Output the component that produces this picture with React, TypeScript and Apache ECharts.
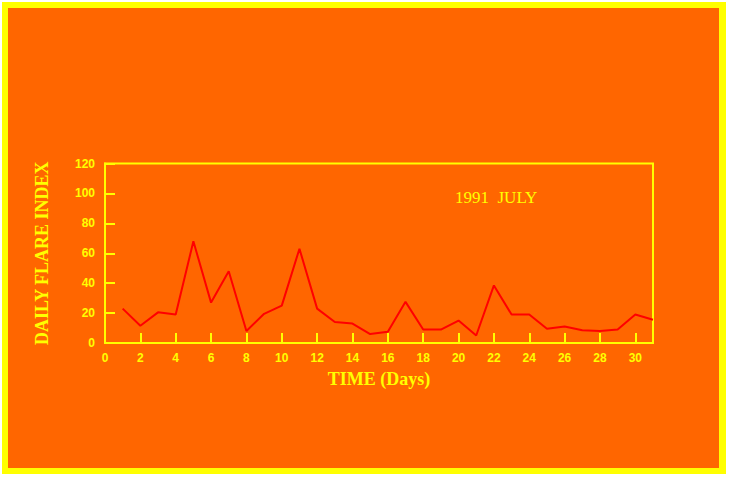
import React, { useEffect, useRef } from "react";
import * as echarts from "echarts";

const days: number[] = Array.from({ length: 31 }, (_, i) => i + 1);
const flareIndex: number[] = [
  23, 11.5, 20.5, 19, 68, 27, 48, 8, 19.5, 25, 63, 23, 14, 13, 6, 7.5,
  27.5, 9, 9, 15, 5, 38.5, 19, 19, 9.5, 11, 8.5, 8, 9, 19, 15.5,
];
const yTicks = { min: 0, max: 120, interval: 20 };
const xTicks = { min: 0, max: 31, interval: 2 };

export default function App() {
  const ref = useRef<HTMLDivElement>(null);
  useEffect(() => {
    if (!ref.current) return;
    const chart = echarts.init(ref.current, undefined, { renderer: "svg" });
    const yellow = "#FFFF00";
    chart.setOption({
      animation: false,
      backgroundColor: "#FFFFFF",
      graphic: [
        { type: "rect", z: -10, silent: true, shape: { x: 2, y: 2, width: 724, height: 472 }, style: { fill: yellow } },
        { type: "rect", z: -9, silent: true, shape: { x: 8, y: 8, width: 711, height: 460 }, style: { fill: "#FF6600" } },
        {
          type: "text",
          left: 455,
          top: 189,
          style: { text: "1991  JULY", fill: yellow, font: "17px 'Liberation Serif', serif" },
        },
      ],
      grid: {
        left: 105,
        right: 76,
        top: 163.5,
        bottom: 134,
        show: true,
        borderColor: yellow,
        borderWidth: 2,
        backgroundColor: "transparent",
      },
      xAxis: {
        type: "value",
        min: xTicks.min,
        max: xTicks.max,
        interval: xTicks.interval,
        name: "TIME (Days)",
        nameLocation: "middle",
        nameGap: 27,
        nameTextStyle: { color: yellow, fontFamily: "'Liberation Serif', serif", fontWeight: "bold", fontSize: 18 },
        axisLine: { lineStyle: { color: yellow, width: 2 } },
        axisTick: { inside: true, length: 10, lineStyle: { color: yellow, width: 2 } },
        axisLabel: {
          color: yellow,
          fontFamily: "'Liberation Sans', Arial, sans-serif",
          fontWeight: "bold",
          fontSize: 12,
          margin: 9,
          showMaxLabel: false,
          formatter: (v: number) => (v % 2 === 0 ? String(v) : ""),
        },
        splitLine: { show: false },
      },
      yAxis: {
        type: "value",
        min: yTicks.min,
        max: yTicks.max,
        interval: yTicks.interval,
        name: "DAILY FLARE INDEX",
        nameLocation: "middle",
        nameGap: 54,
        nameTextStyle: { color: yellow, fontFamily: "'Liberation Serif', serif", fontWeight: "bold", fontSize: 18 },
        axisLine: { show: true, lineStyle: { color: yellow, width: 2 } },
        axisTick: { show: true, inside: true, length: 10, lineStyle: { color: yellow, width: 2 } },
        axisLabel: {
          color: yellow,
          fontFamily: "'Liberation Sans', Arial, sans-serif",
          fontWeight: "bold",
          fontSize: 12,
          margin: 10,
        },
        splitLine: { show: false },
      },
      series: [
        {
          type: "line",
          data: days.map((d, i) => [d, flareIndex[i]]),
          symbol: "none",
          lineStyle: { color: "#FF0000", width: 2 },
        },
      ],
    });
    return () => chart.dispose();
  }, []);
  return (
    <div
      ref={ref}
      style={{ position: "fixed", left: 0, top: 0, width: 729, height: 477 }}
    />
  );
}
